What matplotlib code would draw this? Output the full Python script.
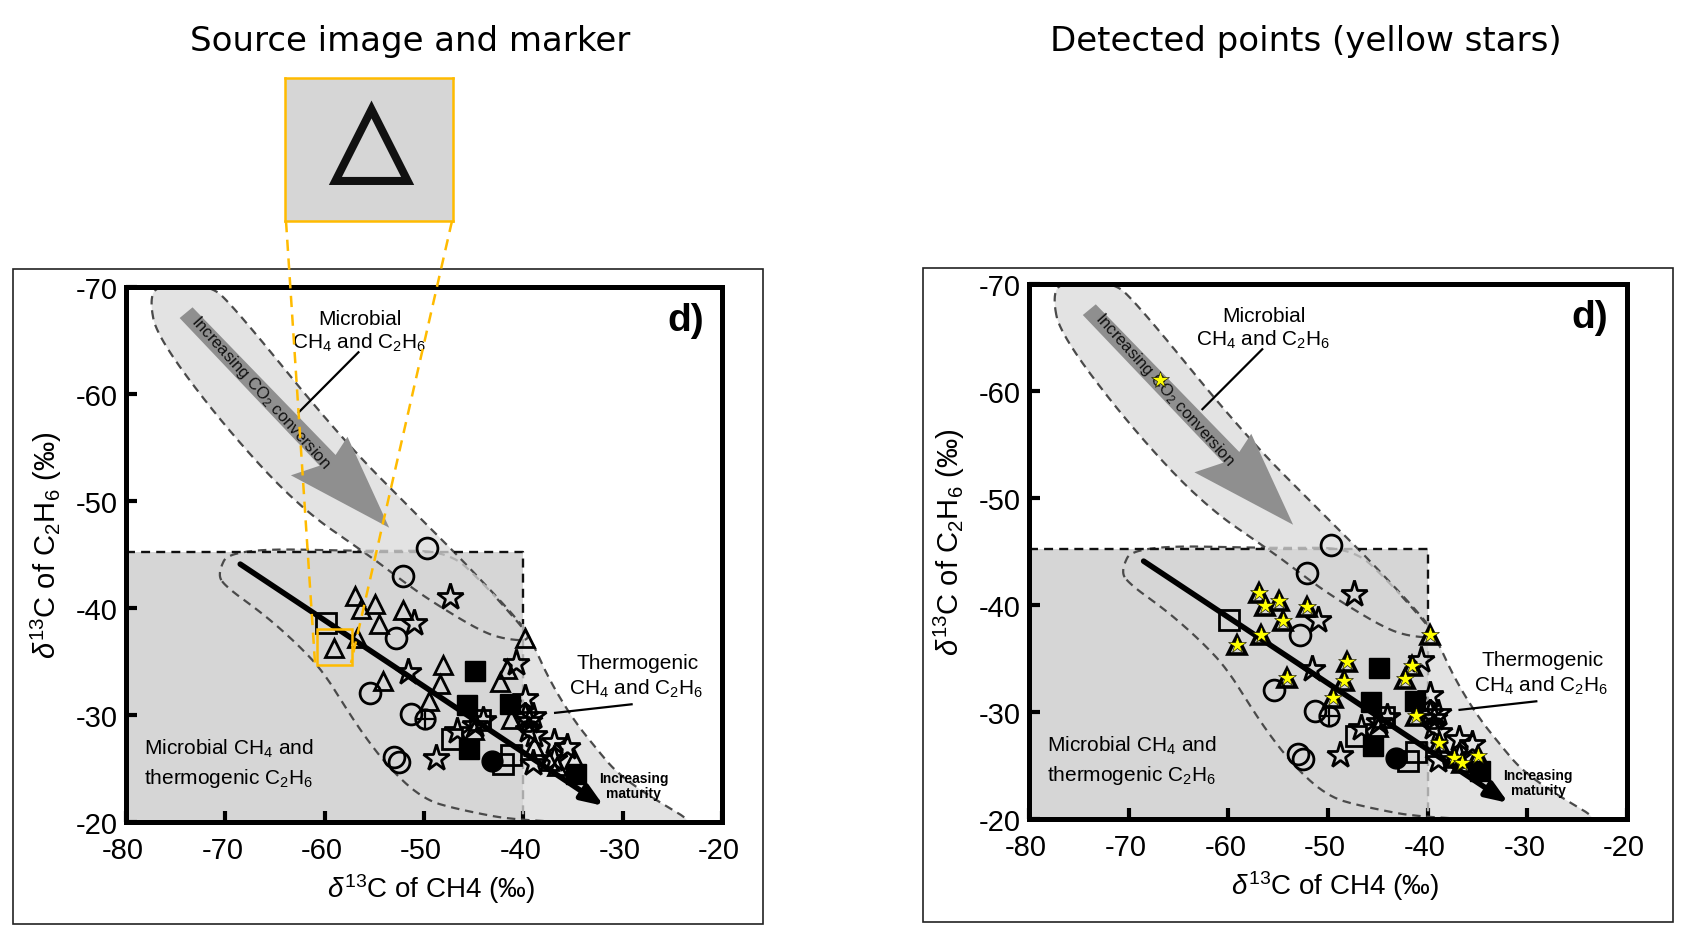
import numpy as np
import matplotlib
matplotlib.use('Agg')
import matplotlib.pyplot as plt
from matplotlib.patches import Polygon, Rectangle
from matplotlib.transforms import ScaledTranslation

plt.rcParams['font.family'] = ['Liberation Sans', 'DejaVu Sans']
plt.rcParams['mathtext.fontset'] = 'custom'
plt.rcParams['mathtext.rm'] = 'Liberation Sans'
plt.rcParams['mathtext.it'] = 'Liberation Sans:italic'
plt.rcParams['mathtext.default'] = 'regular'
plt.rcParams['axes.unicode_minus'] = False

# values (d13C CH4, d13C C2H6)
tri_x = [-56.9, -56.3, -54.9, -54.5, -52.1, -56.7, -59.1, -39.8, -48.1, -41.6, -42.3, -48.4, -54.1, -49.5, -41.2, -38.9, -37.4, -36.6, -34.9]
tri_y = [-41.1, -39.9, -40.4, -38.5, -39.8, -37.2, -36.3, -37.2, -34.7, -34.3, -33.1, -32.9, -33.2, -31.3, -29.6, -27.1, -25.7, -25.2, -25.9]
tri2_x = [-45.0]
tri2_y = [-28.6]
circ_x = [-49.7, -52.1, -52.8, -55.4, -51.3, -53.0, -52.5]
circ_y = [-45.6, -43.0, -37.2, -32.1, -30.1, -26.05, -25.6]
cross_x = [-49.9]
cross_y = [-29.6]
dot_x = [-43.2]
dot_y = [-25.7]
star_x = [-47.4, -51.0, -51.6, -40.7, -39.8, -39.8, -39.0, -39.4, -39.5, -38.9, -36.9, -35.6, -36.9, -39.0, -48.8, -46.7, -44.9, -44.1]
star_y = [-41.0, -38.6, -34.0, -34.9, -31.6, -29.9, -29.9, -29.4, -28.6, -28.1, -27.5, -27.0, -25.9, -25.5, -26.0, -28.5, -29.1, -29.5]
sq_x = [-59.9, -47.2, -44.4, -42.0, -41.2]
sq_y = [-38.6, -27.8, -29.5, -25.4, -26.3]
fsq_x = [-44.9, -41.3, -45.7, -45.5, -34.7]
fsq_y = [-34.1, -31.0, -30.9, -26.8, -24.5]
det_x = tri_x + [-66.9]
det_y = tri_y + [-61.0]

xticks = [-80, -70, -60, -50, -40, -30, -20]
yticks = [-70, -60, -50, -40, -30, -20]

upper_x = [-77.6, -76.9, -71.8, -69.6, -58.5, -50.4, -47.0, -40.7, -39.0, -42.0, -44.4, -48.7, -51.7, -55.2, -62.6, -70.3, -76.9]
upper_y = [-68.7, -70.2, -70.2, -68.7, -56.0, -48.4, -45.3, -39.1, -36.9, -37.1, -37.9, -40.3, -42.2, -44.7, -49.4, -57.2, -65.4]
lower_x = [-70.8, -69.5, -55.0, -47.6, -44.0, -39.9, -39.2, -37.4, -35.0, -32.6, -30.6, -27.3, -23.2, -24.0, -40.0, -46.7, -50.0, -53.4, -56.7, -60.0, -62.6, -66.1, -70.0]
lower_y = [-43.2, -45.6, -45.3, -45.4, -42.3, -38.0, -37.0, -33.3, -29.6, -26.8, -24.6, -22.4, -20.2, -19.9, -20.0, -21.2, -22.1, -24.9, -28.9, -33.9, -36.5, -39.4, -42.0]
arrow_x = [-74.6, -73.3, -58.9, -57.7, -53.5, -63.4, -60.5]
arrow_y = [-67.1, -68.1, -54.3, -56.0, -47.5, -52.4, -53.3]

LIGHT = '#e3e3e3'
DARK = '#d6d6d6'
ORANGE = '#ffbb00'


def smooth(px, py, n=24):
    # closed quadratic b-spline through the midpoints
    p = np.column_stack([px, py])
    out = []
    for i in range(len(p)):
        a = (p[i - 1] + p[i]) / 2
        b = p[i]
        c = (p[i] + p[(i + 1) % len(p)]) / 2
        for t in np.linspace(0, 1, n, endpoint=False):
            out.append((1 - t) ** 2 * a + 2 * t * (1 - t) * b + t ** 2 * c)
    out.append(out[0])
    return np.array(out)


def add_axes_px(fig, left, top, right, bottom):
    W, H = fig.get_size_inches() * fig.dpi
    return fig.add_axes([left / W, 1 - bottom / H, (right - left) / W, (bottom - top) / H])


def draw_panel(fig, frame, box, detected):
    W, H = fig.get_size_inches() * fig.dpi
    fig.add_artist(Rectangle((frame[0] / W, 1 - frame[3] / H), (frame[2] - frame[0]) / W, (frame[3] - frame[1]) / H,
                             transform=fig.transFigure, fill=False, ec='#222222', lw=1.2))
    ax = add_axes_px(fig, *box)
    ax.set_xlim(-80, -20)
    ax.set_ylim(-20, -70)

    up = smooth(upper_x, upper_y)
    low = smooth(lower_x, lower_y)
    ax.fill(up[:, 0], up[:, 1], color=LIGHT, lw=0, zorder=1)
    ax.fill(low[:, 0], low[:, 1], color=LIGHT, lw=0, zorder=1)
    ax.add_patch(Rectangle((-80, -45.2), 40, 25.2, fc=DARK, ec='none', zorder=1.5))

    # dashed outlines, paler where they run over the grey box
    dash = (0, (3.8, 2.6))
    ax.plot(up[:, 0], up[:, 1], color='#4a4a4a', lw=1.6, ls=dash, zorder=2)
    pale = (low[:, 1] < -41) & (low[:, 0] > -56)
    ax.plot(np.where(pale, np.nan, low[:, 0]), low[:, 1], color='#4a4a4a', lw=1.6, ls=dash, zorder=2)
    ax.plot(np.where(pale, low[:, 0], np.nan), low[:, 1], color='#b0b0b0', lw=1.6, ls=dash, zorder=2)
    ax.plot([-80, -56], [-45.2, -45.2], color='#111111', lw=1.7, ls=dash, zorder=2.1)
    ax.plot([-56, -47], [-45.2, -45.2], color='#aaaaaa', lw=1.7, ls=dash, zorder=2.1)
    ax.plot([-47, -40, -40], [-45.2, -45.2, -38.5], color='#111111', lw=1.7, ls=dash, zorder=2.1)
    ax.plot([-40, -40], [-38.5, -20], color='#aaaaaa', lw=1.7, ls=dash, zorder=2.1)

    ax.add_patch(Polygon(np.column_stack([arrow_x, arrow_y]), fc='#8f8f8f', ec='none', zorder=3))
    ax.text(-66.4, -60.2, 'Increasing CO$_2$ conversion', fontsize=12, rotation=-48, rotation_mode='anchor',
            ha='center', va='center', color='#111111', zorder=3.5)

    ax.annotate('', xy=(-31.9, -21.5), xytext=(-68.5, -44.1), zorder=6,
                arrowprops=dict(arrowstyle='-|>,head_length=1.3,head_width=0.5', lw=4, color='black', shrinkA=0, shrinkB=0))
    ax.plot([-56.6, -62.6], [-63.9, -58.3], color='black', lw=1.6, zorder=4)
    ax.plot([-29.1, -36.8], [-31.0, -30.2], color='black', lw=1.6, zorder=4)

    lw = 2.0
    tri_lw = 2.6 if detected else lw
    ax.plot(tri_x, tri_y, '^', ms=13.5, mfc='none', mec='black', mew=tri_lw, zorder=5)
    ax.plot(tri2_x, tri2_y, '^', ms=13.5, mfc='none', mec='black', mew=lw, zorder=5)
    ax.plot(circ_x, circ_y, 'o', ms=15, mfc='none', mec='black', mew=lw, zorder=5)
    ax.plot(cross_x, cross_y, 'o', ms=14, mfc='none', mec='black', mew=lw, zorder=5)
    ax.plot(cross_x, cross_y, '+', ms=14, mec='black', mew=1.6, zorder=5)
    ax.plot(sq_x, sq_y, 's', ms=14, mfc='none', mec='black', mew=lw, zorder=5)
    ax.plot(star_x, star_y, '*', ms=19.5, mfc='none', mec='black', mew=lw, zorder=5)
    ax.plot(fsq_x, fsq_y, 's', ms=15, color='black', zorder=5)
    ax.plot(dot_x, dot_y, 'o', ms=15, color='black', zorder=5)

    if detected:
        ax.plot(det_x, det_y, '*', ms=13, mfc='#ffff00', mec='black', mew=0.4, zorder=8)
    else:
        ax.add_patch(Rectangle((-60.8, -38.0), 3.6, 3.3, fill=False, ec=ORANGE, lw=1.8, zorder=8))

    ax.text(-56.4, -67.1, 'Microbial', fontsize=15, ha='center', va='center', zorder=7)
    ax.text(-56.5, -64.9, 'CH$_4$ and C$_2$H$_6$', fontsize=15, ha='center', va='center', zorder=7)
    ax.text(-28.5, -34.9, 'Thermogenic', fontsize=15, ha='center', va='center', zorder=7)
    ax.text(-28.6, -32.5, 'CH$_4$ and C$_2$H$_6$', fontsize=15, ha='center', va='center', zorder=7)
    ax.text(-78.2, -26.9, 'Microbial CH$_4$ and', fontsize=15, ha='left', va='center', zorder=7)
    ax.text(-78.2, -24.2, 'thermogenic C$_2$H$_6$', fontsize=15, ha='left', va='center', zorder=7)
    ax.text(-28.9, -24.1, 'Increasing', fontsize=10, weight='bold', ha='center', va='center', zorder=7)
    ax.text(-28.9, -22.7, 'maturity', fontsize=10, weight='bold', ha='center', va='center', zorder=7)
    ax.text(-23.7, -66.9, 'd)', fontsize=28, weight='bold', ha='center', va='center', zorder=7)

    ax.set_xticks(xticks)
    ax.set_yticks(yticks)
    ax.tick_params(direction='in', length=8, width=3, labelsize=21)
    ax.tick_params(axis='x', pad=10)
    ax.tick_params(axis='y', pad=6)
    # the source tick labels sit a little left of their ticks
    nudge = ScaledTranslation(-3 / fig.dpi, 0, fig.dpi_scale_trans)
    for lab in ax.get_xticklabels():
        lab.set_transform(lab.get_transform() + nudge)
    for s in ax.spines.values():
        s.set_linewidth(3.6)
        s.set_zorder(9)
    ax.set_xlabel(r'$\mathit{\delta}^{13}$C of CH4 (‰)', fontsize=20, va='center')
    ax.set_ylabel(r'$\mathit{\delta}^{13}$C of C$_2$H$_6$ (‰)', fontsize=21, va='center')
    ax.xaxis.set_label_coords(0.512, -0.123)
    ax.yaxis.set_label_coords(-0.133, 0.519)
    return ax


fig = plt.figure(figsize=(16.98, 9.53), dpi=100)

left = draw_panel(fig, (13, 270, 763, 925), (126, 288, 722, 823), False)
right = draw_panel(fig, (923, 269, 1673, 923), (1029, 285, 1627, 820), True)

fig.text(410 / 1698, 1 - 42 / 953, 'Source image and marker', fontsize=24.5, family='DejaVu Sans', ha='center', va='center')
fig.text(1306 / 1698, 1 - 42 / 953, 'Detected points (yellow stars)', fontsize=24.5, family='DejaVu Sans', ha='center', va='center')

# enlarged marker above the left panel
inset = add_axes_px(fig, 285, 79, 453, 222)
inset.set_facecolor(DARK)
inset.set_xlim(0, 1)
inset.set_ylim(0, 1)
inset.set_xticks([])
inset.set_yticks([])
for s in inset.spines.values():
    s.set_color(ORANGE)
    s.set_linewidth(1.8)
inset.add_patch(Polygon([(0.30, 0.28), (0.73, 0.28), (0.515, 0.78)], closed=True, fill=False, ec='#111111', lw=5.8, joinstyle='miter'))

# connectors from the inset to the small box
W, H = fig.get_size_inches() * fig.dpi
for (x0, y0), (x1, y1) in [((286, 222), (315, 664)), ((452, 222), (351, 664))]:
    fig.add_artist(plt.Line2D([x0 / W, x1 / W], [1 - y0 / H, 1 - y1 / H], color=ORANGE, lw=1.8, ls=(0, (4.5, 3)), zorder=10))

fig.savefig('out.png', dpi=100)
